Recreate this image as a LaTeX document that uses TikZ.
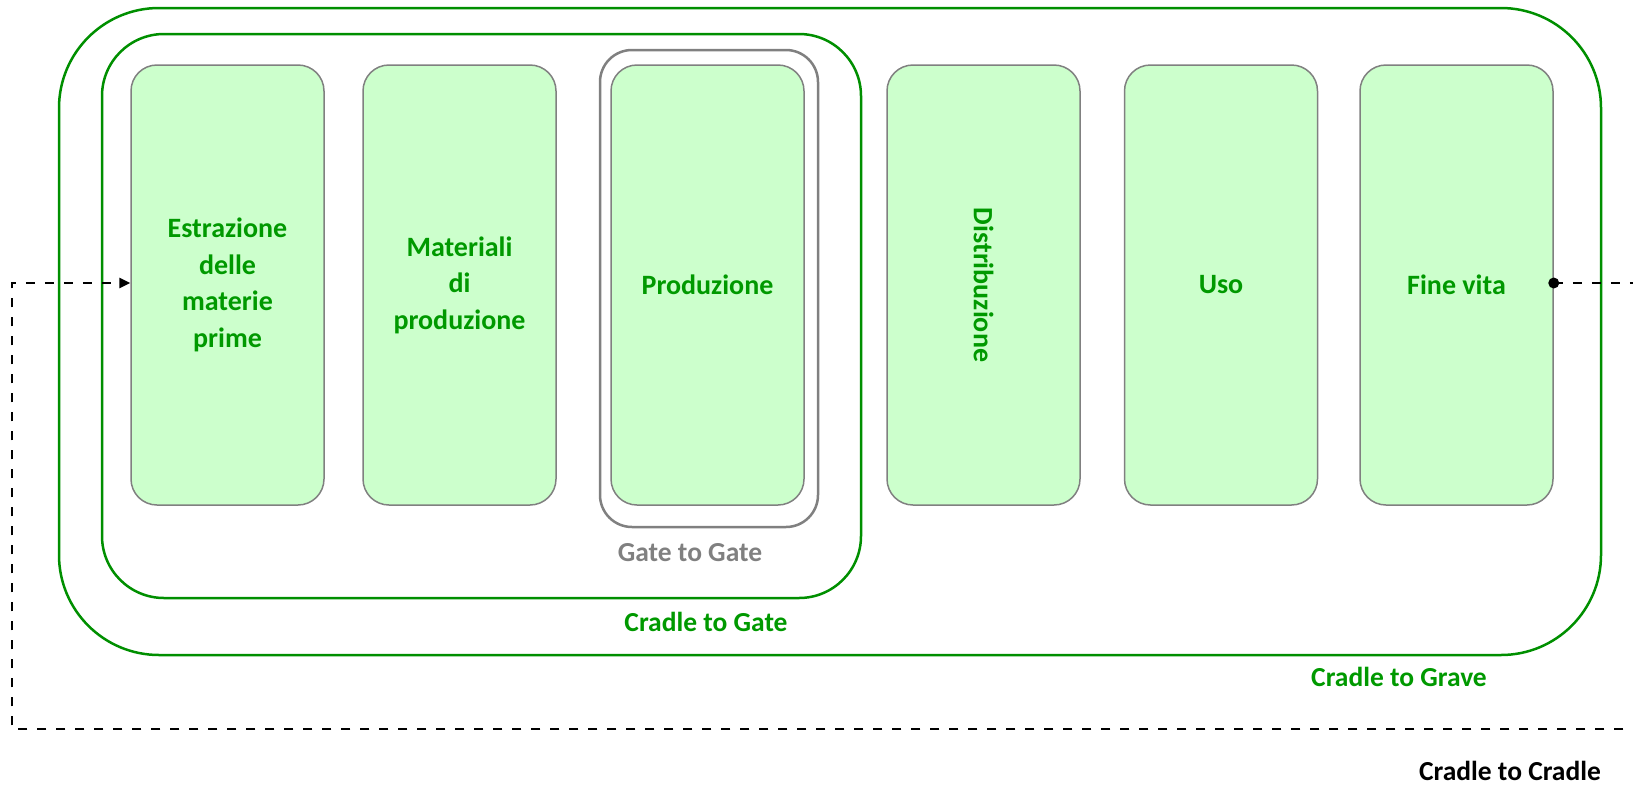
\documentclass[tikz,border=0pt]{standalone}
\usepackage{fontspec}
\setmainfont{Carlito}
\usetikzlibrary{arrows.meta}
\definecolor{stagefill}{HTML}{CCFFCC}
\definecolor{stagetext}{HTML}{009900}
\definecolor{framegreen}{HTML}{008F00}
\definecolor{framegray}{HTML}{808080}
\tikzset{
  stagebox/.style={draw=framegray, line width=1.5pt, fill=stagefill,
    rounded corners=26pt, minimum width=193pt, minimum height=440pt,
    text=stagetext, align=center, inner sep=0pt,
    font=\fontsize{28}{36.5}\selectfont\bfseries},
  framebox/.style={draw=framegreen, line width=2.5pt, inner sep=0pt},
  gatebox/.style={draw=framegray, line width=2.5pt, inner sep=0pt,
    rounded corners=32pt, minimum width=218pt, minimum height=477pt},
  caption/.style={font=\fontsize{27.5}{30}\selectfont\bfseries, inner sep=0pt},
  loopline/.style={draw=black, line width=2.5pt, dash pattern=on 9pt off 10pt,
    line cap=butt}
}
\begin{document}
\begin{tikzpicture}[x=1pt, y=-1pt]
  \useasboundingbox (0,0) rectangle (1633,785);

  % nested system boundaries
  \node[framebox, rounded corners=100pt, minimum width=1542pt, minimum height=647pt]
    (grave) at (830,331.5) {};
  \node[framebox, rounded corners=62pt, minimum width=759pt, minimum height=564pt]
    (gate) at (481.5,316) {};
  \node[gatebox] (g2g) at (709,288.5) {};

  % life-cycle stages
  \node[stagebox] (estr) at (227.5,285) {Estrazione\\delle\\materie\\prime};
  \node[stagebox] (mat)  at (459.5,285) {Materiali\\di\\produzione};
  \node[stagebox] (prod) at (707.5,285) {Produzione};
  \node[stagebox, rotate=-90, minimum width=440pt, minimum height=193pt]
    (distr) at (983.5,285) {Distribuzione};
  \node[stagebox] (uso)  at (1221,285) {Uso};
  \node[stagebox] (fine) at (1456.5,285) {Fine vita};

  % boundary captions
  \node[caption, text=framegray]  (l1) at (690,553) {Gate to Gate};
  \node[caption, text=stagetext]  (l2) at (706,622) {Cradle to Gate};
  \node[caption, text=stagetext]  (l3) at (1399,677) {Cradle to Grave};
  \node[caption, text=black, anchor=base] (l4) at (1510,780) {Cradle to Cradle};

  % recycling loop from end of life back to raw materials
  \coordinate (outR) at (1660,729);
  \coordinate (outL) at (12,729);
  \draw[loopline, -{Triangle[length=11pt,width=10pt]}]
    (fine.east |- 0,283) -| (outR) -- (outL) |- (estr.west |- 0,283);
  \fill (fine.east |- 0,283) circle (5.5pt);
\end{tikzpicture}
\end{document}
